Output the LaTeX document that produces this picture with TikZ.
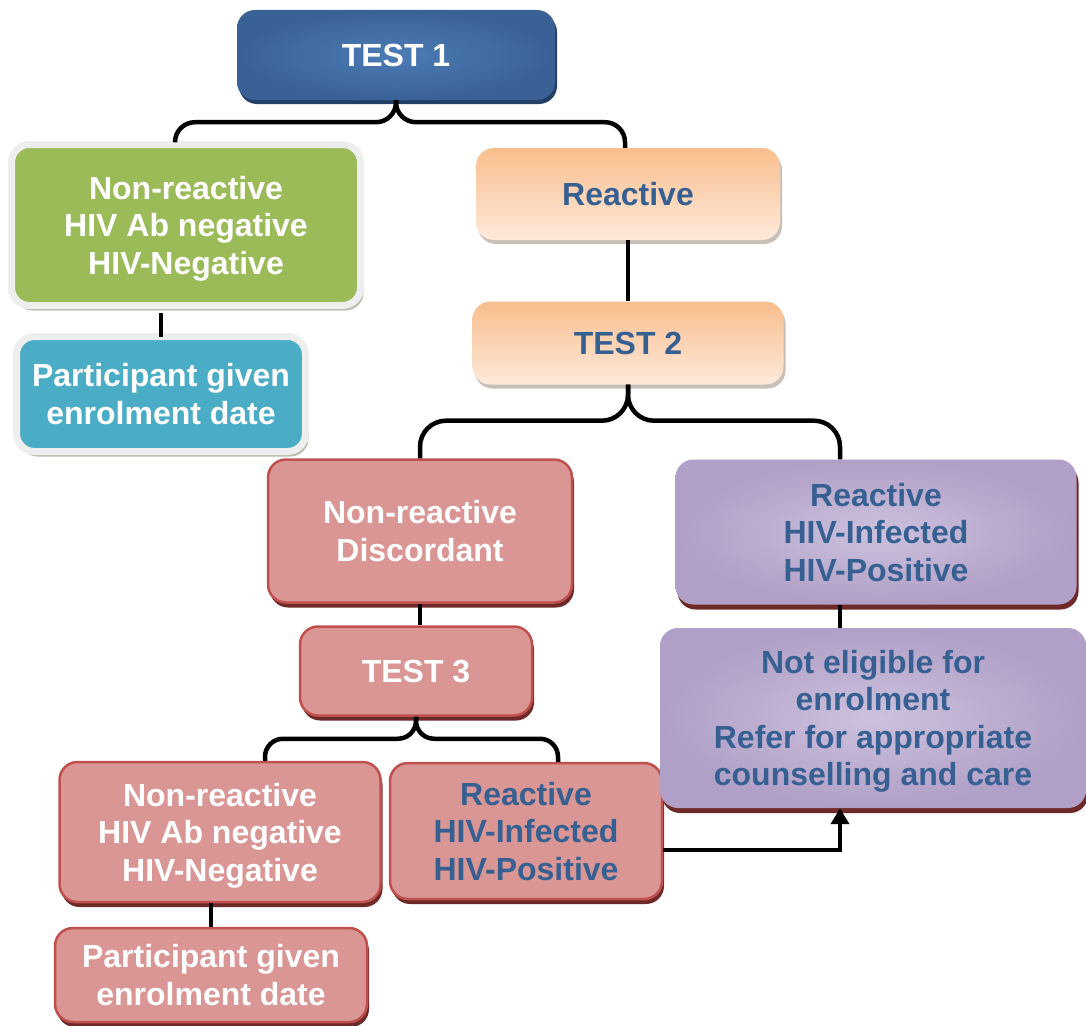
\documentclass[tikz,border=0pt]{standalone}
\usepackage{fontspec}
\setmainfont{Liberation Sans}
\usetikzlibrary{shadows,arrows.meta,calc}
\definecolor{txtblue}{HTML}{376092}
\definecolor{bluein}{HTML}{4C7BB5}
\definecolor{blueout}{HTML}{3A6196}
\definecolor{blueshadow}{HTML}{243F66}
\definecolor{greenfill}{HTML}{9BBB59}
\definecolor{tealfill}{HTML}{4BACC6}
\definecolor{framegray}{HTML}{EEEEEE}
\definecolor{frameshadow}{HTML}{B9BEB0}
\definecolor{orangetop}{HTML}{F9BE8D}
\definecolor{orangebot}{HTML}{FDEADB}
\definecolor{orangeshadow}{HTML}{C8C0B8}
\definecolor{redfill}{HTML}{D99694}
\definecolor{redline}{HTML}{C0504D}
\definecolor{redshadow}{HTML}{6E2A28}
\definecolor{purplein}{HTML}{CDC1DD}
\definecolor{purpleout}{HTML}{B09FC6}
\begin{document}
\begin{tikzpicture}[x=1pt,y=-1pt,
  box/.style={rounded corners=18pt, align=center, inner sep=0pt, text depth=0pt,
    font=\fontsize{32}{37.5}\selectfont\bfseries},
  bluebox/.style={box, text=white, inner color=bluein, outer color=blueout,
    general shadow={shadow xshift=2pt, shadow yshift=-4pt, fill=blueshadow}},
  framebox/.style={box, text=white, draw=framegray, line width=7pt,
    general shadow={shadow xshift=3pt, shadow yshift=-5pt, fill=frameshadow}},
  orangebox/.style={box, text=txtblue, top color=orangetop, bottom color=orangebot,
    general shadow={shadow xshift=2pt, shadow yshift=-4pt, fill=orangeshadow}},
  redbox/.style={box, fill=redfill, draw=redline, line width=2.5pt,
    general shadow={shadow xshift=2pt, shadow yshift=-5pt, fill=redshadow}},
  purplebox/.style={box, text=txtblue, inner color=purplein, outer color=purpleout,
    general shadow={shadow xshift=2pt, shadow yshift=-5pt, fill=redshadow}},
  conn/.style={line width=4.5pt, black},
]
\useasboundingbox (0,0) rectangle (1086,1025);

\node[bluebox, minimum width=318, minimum height=90] (t1) at (396,55) {TEST 1};
\node[framebox, fill=greenfill, minimum width=349, minimum height=161] (green) at (186,225)
  {Non-reactive\\HIV Ab negative\\HIV-Negative};
\node[framebox, fill=tealfill, minimum width=289, minimum height=115] (teal) at (161,394)
  {Participant given\\enrolment date};
\node[orangebox, minimum width=304, minimum height=92] (reac) at (628,194) {Reactive};
\node[orangebox, minimum width=311, minimum height=83] (t2) at (628,343) {TEST 2};
\node[redbox, text=white, minimum width=304, minimum height=143] (disc) at (420,531)
  {Non-reactive\\Discordant};
\node[redbox, text=white, minimum width=232, minimum height=89] (t3) at (416,671) {TEST 3};
\node[redbox, text=white, minimum width=321, minimum height=140] (neg) at (220,832)
  {Non-reactive\\HIV Ab negative\\HIV-Negative};
\node[redbox, text=txtblue, minimum width=272, minimum height=136] (pos) at (526,831)
  {Reactive\\HIV-Infected\\HIV-Positive};
\node[redbox, text=white, minimum width=312, minimum height=94] (part) at (211,975)
  {Participant given\\enrolment date};
\node[purplebox, minimum width=401, minimum height=145] (p1) at (876,532)
  {Reactive\\HIV-Infected\\HIV-Positive};
\node[purplebox, minimum width=426, minimum height=180] (p2) at (873,718)
  {Not eligible for\\enrolment\\Refer for appropriate\\counselling and care};

% braces
\coordinate (m1) at ($(t1.south)+(0,22)$);
\coordinate (e1l) at ([xshift=-11pt,yshift=2pt]green.north);
\coordinate (e1r) at ([xshift=-3pt]reac.north);
\draw[conn, rounded corners=20pt] (t1.south) |- (e1l |- m1) -- (e1l);
\draw[conn, rounded corners=20pt] (t1.south) |- (e1r |- m1) -- (e1r);

\coordinate (m2) at ($(t2.south)+(0,36)$);
\coordinate (e2l) at (disc.north);
\coordinate (e2r) at ([xshift=-36pt]p1.north);
\draw[conn, rounded corners=26pt] (t2.south) |- (e2l |- m2) -- (e2l);
\draw[conn, rounded corners=26pt] (t2.south) |- (e2r |- m2) -- (e2r);

\coordinate (m3) at ($(t3.south)+(0,22)$);
\coordinate (e3l) at ([xshift=45pt]neg.north);
\coordinate (e3r) at ([xshift=32pt]pos.north);
\draw[conn, rounded corners=18pt] (t3.south) |- (e3l |- m3) -- (e3l);
\draw[conn, rounded corners=18pt] (t3.south) |- (e3r |- m3) -- (e3r);

% straight links
\draw[conn] ([yshift=-4pt]teal.north) -- ([yshift=-4pt]teal.north |- green.south);
\draw[conn] (reac.south) -- (t2.north);
\draw[conn] (disc.south) -- (disc.south |- t3.north);
\draw[conn] (part.north) -- (part.north |- neg.south);
\draw[conn] (e2r |- p1.south) -- (e2r |- p2.north);
\draw[conn, -{Triangle[width=18pt,length=16pt]}] ([yshift=-19pt]pos.east) -| (e2r |- p2.south);
\end{tikzpicture}
\end{document}
